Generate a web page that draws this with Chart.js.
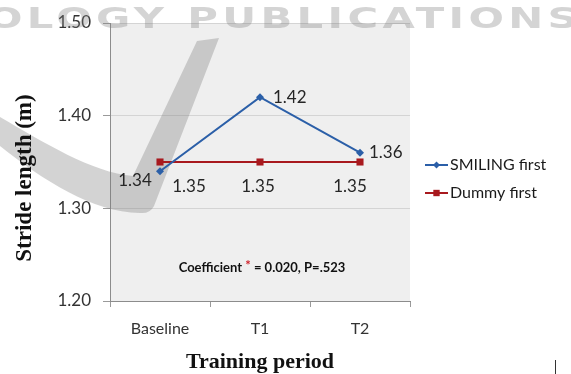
<!DOCTYPE html>
<html>
<head>
<meta charset="utf-8">
<script src="https://cdn.jsdelivr.net/npm/chart.js@4/dist/chart.umd.min.js"></script>
<style>
  html, body { margin: 0; padding: 0; background: #ffffff; }
  #wrap { width: 571px; height: 374px; position: relative; }
</style>
</head>
<body>
<div id="wrap"><canvas id="c" width="571" height="374"></canvas></div>
<script>
// Training periods and stride length (m) per group
const periods = ['Baseline', 'T1', 'T2'];
const smilingFirst = [1.34, 1.42, 1.36];
const dummyFirst = [1.35, 1.35, 1.35];
const seriesNames = ['SMILING first', 'Dummy first'];
const yTicks = [1.20, 1.30, 1.40, 1.50];
const statText = ['Coefficient ', '*', ' = 0.020, P=.523'];

const BLUE = '#2b5fa8';
const RED = '#a8191e';
const TICK_FONT = "'Lato', 'Open Sans', sans-serif";
const TITLE_FONT = "'Liberation Serif', 'DejaVu Serif', serif";

// label offsets (px) from each point, per dataset
const labelOffsets = [
  [[-25, 9, 'center'], [13, 0, 'left'], [9, 0, 'left']],
  [[29, 25, 'center'], [-2, 25, 'center'], [-10, 25, 'center']]
];

const plotBackground = {
  id: 'plotBackground',
  beforeDraw(chart) {
    const { ctx, chartArea: a } = chart;
    ctx.save();
    ctx.fillStyle = '#efefef';
    ctx.fillRect(a.left, a.top, a.right - a.left, a.bottom - a.top);
    ctx.restore();
  }
};

// grey publisher mark behind the series
const publisherMark = {
  id: 'publisherMark',
  beforeDatasetsDraw(chart) {
    const ctx = chart.ctx;
    ctx.save();
    ctx.fillStyle = 'rgba(120,120,120,0.33)';
    ctx.beginPath();
    ctx.moveTo(-5, 114);
    ctx.bezierCurveTo(40, 140, 90, 172, 133, 176);
    ctx.lineTo(197, 41);
    ctx.lineTo(219, 38);
    ctx.lineTo(154, 206);
    ctx.quadraticCurveTo(150, 214, 140, 213);
    ctx.bezierCurveTo(90, 212, 40, 178, -5, 142);
    ctx.closePath();
    ctx.fill();

    ctx.fillStyle = 'rgba(130,130,130,0.34)';
    ctx.font = "bold 29px 'DejaVu Sans', sans-serif";
    ctx.letterSpacing = '3px';
    ctx.textBaseline = 'alphabetic';
    const txt = 'OLOGY PUBLICATIONS';
    const w = ctx.measureText(txt).width;
    const x0 = -13, x1 = 582;
    ctx.translate(x0, 28);
    ctx.scale((x1 - x0) / w, 1);
    ctx.fillText(txt, 0, 0);
    ctx.restore();
  }
};

const pointLabels = {
  id: 'pointLabels',
  afterDatasetsDraw(chart) {
    const ctx = chart.ctx;
    ctx.save();
    ctx.font = '17px ' + TICK_FONT;
    ctx.fillStyle = '#262626';
    ctx.textBaseline = 'middle';
    chart.data.datasets.forEach((ds, di) => {
      const meta = chart.getDatasetMeta(di);
      meta.data.forEach((pt, i) => {
        const [dx, dy, align] = labelOffsets[di][i];
        ctx.textAlign = align;
        ctx.fillText(ds.data[i].toFixed(2), pt.x + dx, pt.y + dy);
      });
    });
    ctx.restore();
  }
};

const extras = {
  id: 'extras',
  afterDraw(chart) {
    const ctx = chart.ctx;
    ctx.save();
    // axis titles
    ctx.fillStyle = '#111111';
    ctx.textAlign = 'center';
    ctx.textBaseline = 'middle';
    ctx.font = 'bold 22px ' + TITLE_FONT;
    ctx.fillText('Training period', 260, 362);
    ctx.save();
    ctx.translate(25, 178);
    ctx.rotate(-Math.PI / 2);
    ctx.font = 'bold 23px ' + TITLE_FONT;
    ctx.fillText('Stride length (m)', 0, 0);
    ctx.restore();

    // statistic note
    ctx.font = 'bold 13px ' + TICK_FONT;
    ctx.textAlign = 'left';
    const widths = statText.map(t => ctx.measureText(t).width);
    let x = 262 - widths.reduce((s, v) => s + v, 0) / 2;
    statText.forEach((t, i) => {
      ctx.fillStyle = i === 1 ? '#d0202a' : '#111111';
      ctx.fillText(t, x, i === 1 ? 266 : 268);
      x += widths[i];
    });

    // legend
    const items = [
      { y: 165, color: BLUE, style: 'rectRot', r: 3.5 },
      { y: 193, color: RED, style: 'rect', r: 4.5 }
    ];
    ctx.font = '16px ' + TICK_FONT;
    items.forEach((it, i) => {
      ctx.strokeStyle = it.color;
      ctx.lineWidth = 2;
      ctx.beginPath();
      ctx.moveTo(425, it.y);
      ctx.lineTo(448, it.y);
      ctx.stroke();
      ctx.fillStyle = it.color;
      Chart.helpers.drawPoint(ctx, { pointStyle: it.style, radius: it.r, borderWidth: 0 }, 436.5, it.y);
      ctx.fillStyle = '#1a1a1a';
      ctx.textBaseline = 'middle';
      ctx.fillText(seriesNames[i], 450, it.y);
    });

    // small stroke at the lower right edge
    ctx.strokeStyle = '#333333';
    ctx.lineWidth = 1;
    ctx.beginPath();
    ctx.moveTo(555.5, 360);
    ctx.lineTo(555.5, 374);
    ctx.stroke();
    ctx.restore();
  }
};

new Chart(document.getElementById('c'), {
  type: 'line',
  data: {
    labels: periods,
    datasets: [
      {
        label: seriesNames[0],
        data: smilingFirst,
        borderColor: BLUE,
        backgroundColor: BLUE,
        borderWidth: 2,
        pointStyle: 'rectRot',
        pointRadius: 4,
        pointBorderWidth: 0,
        tension: 0
      },
      {
        label: seriesNames[1],
        data: dummyFirst,
        borderColor: RED,
        backgroundColor: RED,
        borderWidth: 2,
        pointStyle: 'rect',
        pointRadius: 5,
        pointBorderWidth: 0,
        tension: 0
      }
    ]
  },
  options: {
    responsive: false,
    animation: false,
    layout: { padding: { top: 23, right: 161, left: 0, bottom: 0 } },
    plugins: { legend: { display: false }, tooltip: { enabled: false } },
    scales: {
      x: {
        offset: true,
        grid: { offset: true, drawOnChartArea: false, tickLength: 6, color: '#9a9a9a' },
        border: { color: '#8c8c8c', width: 1 },
        ticks: { font: { family: TICK_FONT, size: 16 }, color: '#333333', padding: 12 },
        afterFit(scale) { scale.height = 73; }
      },
      y: {
        min: yTicks[0],
        max: yTicks[yTicks.length - 1],
        afterBuildTicks(scale) { scale.ticks = yTicks.map(v => ({ value: v })); },
        grid: { color: '#d4d4d4', tickColor: '#9a9a9a', tickLength: 7 },
        border: { color: '#8c8c8c', width: 1 },
        ticks: {
          font: { family: TICK_FONT, size: 17 },
          color: '#333333',
          padding: 12,
          callback: v => Number(v).toFixed(2)
        },
        afterFit(scale) { scale.width = 110; }
      }
    }
  },
  plugins: [plotBackground, publisherMark, pointLabels, extras]
});
</script>
</body>
</html>
